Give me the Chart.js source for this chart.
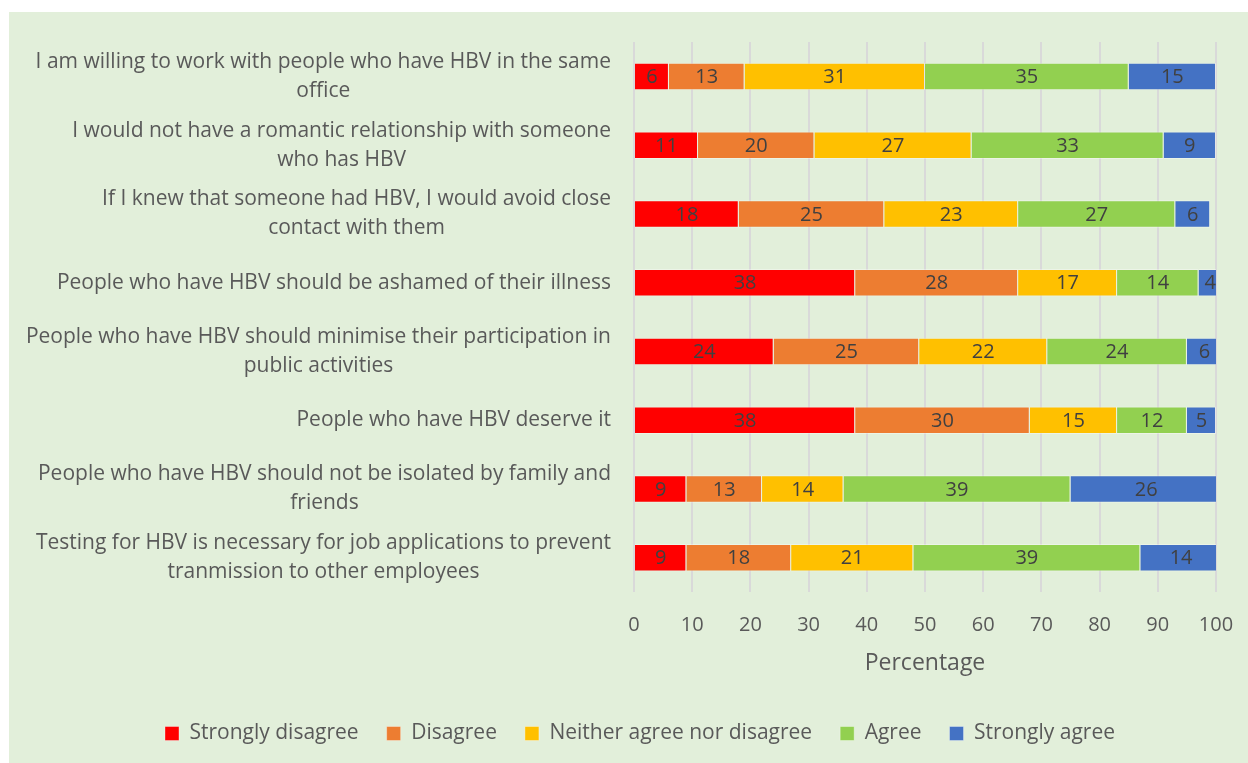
<!DOCTYPE html>
<html>
<head>
<meta charset="utf-8">
<script src="https://cdn.jsdelivr.net/npm/chart.js@4.4.1/dist/chart.umd.min.js"></script>
<style>
  html, body { margin: 0; padding: 0; background: #ffffff; }
  #wrap { width: 1248px; height: 763px; }
</style>
</head>
<body>
<div id="wrap"><canvas id="chart" width="1248" height="763"></canvas></div>
<script>
// Survey statements (each entry is the wrapped lines of one statement)
const statements = [
  ["I am willing to work with people who have HBV in the same", "office"],
  ["I would not have a romantic relationship with someone", "who has HBV"],
  ["If I knew that someone had HBV, I would avoid close", "contact with them"],
  ["People who have HBV should be ashamed of their illness"],
  ["People who have HBV should minimise their participation in", "public activities"],
  ["People who have HBV deserve it"],
  ["People who have HBV should not be isolated by family and", "friends"],
  ["Testing for HBV is necessary for job applications to prevent", "tranmission to other employees"]
];

// Response categories
const responseLabels = ["Strongly disagree", "Disagree", "Neither agree nor disagree", "Agree", "Strongly agree"];

// Percentages per response, one value per statement (top to bottom)
const stronglyDisagree = [6, 11, 18, 38, 24, 38, 9, 9];
const disagree         = [13, 20, 25, 28, 25, 30, 13, 18];
const neither          = [31, 27, 23, 17, 22, 15, 14, 21];
const agree            = [35, 33, 27, 14, 24, 12, 39, 39];
const stronglyAgree    = [15, 9, 6, 4, 6, 5, 26, 14];

// Axis
const axisMin = 0;
const axisMax = 100;
const axisStep = 10;
const axisTitle = "Percentage";

const seriesValues = [stronglyDisagree, disagree, neither, agree, stronglyAgree];
const seriesColors = ["#FF0000", "#ED7D31", "#FFC000", "#92D050", "#4472C4"];

const FONT = "'Open Sans', Lato, sans-serif";
const TEXT_GREY = "#595959";

// Light green panel behind the whole chart
const panelBackground = {
  id: "panelBackground",
  beforeDraw(chart) {
    const ctx = chart.ctx;
    ctx.save();
    ctx.fillStyle = "#E2EFDA";
    ctx.fillRect(9, 12, chart.width - 9, chart.height - 12);
    ctx.restore();
  }
};

// Statement labels: block right-aligned to the axis, lines centred within the block
const statementLabels = {
  id: "statementLabels",
  afterDraw(chart) {
    const ctx = chart.ctx;
    const yScale = chart.scales.y;
    const right = chart.chartArea.left - 23;
    const lineGap = 29;
    ctx.save();
    ctx.font = "21px " + FONT;
    ctx.fillStyle = TEXT_GREY;
    ctx.textAlign = "center";
    ctx.textBaseline = "middle";
    statements.forEach((lines, i) => {
      const yc = yScale.getPixelForValue(i);
      const w = Math.max(...lines.map(l => ctx.measureText(l).width));
      const cx = right - w / 2;
      const y0 = yc - (lines.length - 1) * lineGap / 2;
      lines.forEach((line, k) => ctx.fillText(line, cx, y0 + k * lineGap));
    });
    ctx.restore();
  }
};

// Value labels centred in each bar segment
const segmentValues = {
  id: "segmentValues",
  afterDatasetsDraw(chart) {
    const ctx = chart.ctx;
    ctx.save();
    ctx.font = "20px " + FONT;
    ctx.fillStyle = "#404040";
    ctx.textAlign = "center";
    ctx.textBaseline = "middle";
    chart.data.datasets.forEach((ds, di) => {
      const meta = chart.getDatasetMeta(di);
      meta.data.forEach((bar, i) => {
        const v = ds.data[i];
        ctx.fillText(String(v), (bar.x + bar.base) / 2, bar.y + 1);
      });
    });
    ctx.restore();
  }
};

new Chart(document.getElementById("chart"), {
  type: "bar",
  data: {
    labels: statements.map(s => s.join(" ")),
    datasets: responseLabels.map((name, k) => ({
      label: name,
      data: seriesValues[k],
      backgroundColor: seriesColors[k],
      borderColor: "rgba(255,255,255,0.35)",
      borderWidth: 1,
      categoryPercentage: 0.4,
      barPercentage: 1
    }))
  },
  options: {
    indexAxis: "y",
    responsive: false,
    animation: false,
    devicePixelRatio: 1,
    layout: { padding: { top: 42, right: 0, bottom: 9, left: 32 } },
    scales: {
      y: {
        stacked: true,
        ticks: { display: false },
        grid: { display: false },
        border: { display: false },
        afterFit(scale) { scale.width = 602; }
      },
      x: {
        stacked: true,
        min: axisMin,
        max: axisMax,
        ticks: {
          stepSize: axisStep,
          padding: 21,
          color: TEXT_GREY,
          font: { family: FONT, size: 20 }
        },
        grid: { color: "#D9D9D9", lineWidth: 2, drawTicks: false },
        border: { display: false },
        title: {
          display: true,
          text: axisTitle,
          color: TEXT_GREY,
          font: { family: FONT, size: 23 },
          padding: { top: 0, bottom: 18 }
        },
        afterFit(scale) {
          scale.height = 103;
          scale.paddingLeft = 0;
          scale.paddingRight = 32;
        }
      }
    },
    plugins: {
      legend: {
        position: "bottom",
        labels: {
          boxWidth: 14,
          boxHeight: 14,
          padding: 28,
          color: TEXT_GREY,
          font: { family: FONT, size: 21 }
        }
      },
      tooltip: { enabled: false }
    }
  },
  plugins: [panelBackground, statementLabels, segmentValues]
});
</script>
</body>
</html>
